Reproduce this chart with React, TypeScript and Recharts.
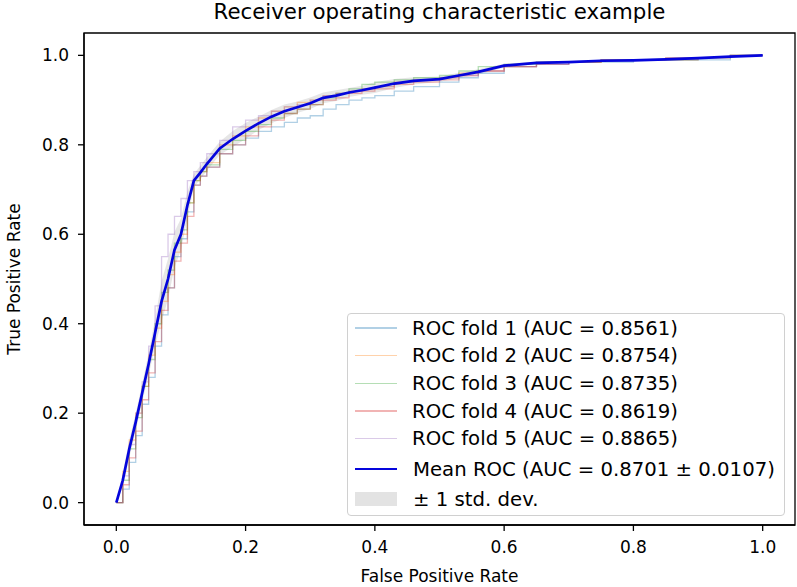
import React from "react";
import {
  ComposedChart,
  Line,
  Area,
  XAxis,
  YAxis,
  ReferenceArea,
} from "recharts";

// false positive rate grid shared by every series
const fprGrid = [
  0, 0.01, 0.02, 0.03, 0.04, 0.05, 0.06, 0.07, 0.08, 0.09, 0.1, 0.11, 0.12,
  0.13, 0.14, 0.16, 0.18, 0.2, 0.22, 0.24, 0.26, 0.28, 0.3, 0.32, 0.34, 0.36,
  0.38, 0.4, 0.43, 0.46, 0.5, 0.53, 0.56, 0.6, 0.65, 0.7, 0.75, 0.8, 0.85, 0.9,
  0.95, 1.0,
];

const meanTpr = [
  0, 0.05, 0.12, 0.18, 0.245, 0.31, 0.38, 0.45, 0.5, 0.565, 0.6, 0.665, 0.72,
  0.738, 0.757, 0.792, 0.813, 0.831, 0.848, 0.863, 0.875, 0.884, 0.893, 0.905,
  0.91, 0.917, 0.922, 0.928, 0.937, 0.943, 0.947, 0.955, 0.963, 0.977, 0.983,
  0.985, 0.988, 0.989, 0.991, 0.994, 0.997, 1.0,
];

const stdTpr = [
  0, 0.015, 0.02, 0.02, 0.02, 0.025, 0.03, 0.045, 0.045, 0.04, 0.035, 0.03,
  0.015, 0.015, 0.015, 0.015, 0.018, 0.018, 0.015, 0.015, 0.015, 0.013, 0.013,
  0.012, 0.012, 0.01, 0.01, 0.012, 0.01, 0.008, 0.006, 0.006, 0.006, 0.004,
  0.003, 0.002, 0.002, 0.002, 0.002, 0.002, 0.002, 0,
];

const fold1Tpr = [
  0, 0.03, 0.09, 0.15, 0.22, 0.28, 0.35, 0.42, 0.48, 0.55, 0.59, 0.65, 0.71,
  0.73, 0.75, 0.78, 0.8, 0.815, 0.83, 0.84, 0.85, 0.86, 0.865, 0.88, 0.89, 0.9,
  0.905, 0.91, 0.92, 0.93, 0.94, 0.95, 0.96, 0.975, 0.98, 0.985, 0.985, 0.99,
  0.99, 0.99, 1.0, 1.0,
];
const fold2Tpr = [
  0, 0.07, 0.14, 0.2, 0.26, 0.33, 0.39, 0.45, 0.51, 0.56, 0.6, 0.67, 0.72,
  0.74, 0.76, 0.8, 0.82, 0.84, 0.86, 0.875, 0.885, 0.895, 0.9, 0.91, 0.915,
  0.92, 0.925, 0.93, 0.94, 0.945, 0.95, 0.96, 0.965, 0.975, 0.985, 0.985, 0.99,
  0.99, 0.995, 0.995, 1.0, 1.0,
];
const fold3Tpr = [
  0, 0.05, 0.12, 0.19, 0.26, 0.32, 0.4, 0.47, 0.52, 0.58, 0.61, 0.67, 0.72,
  0.74, 0.755, 0.79, 0.81, 0.83, 0.845, 0.86, 0.87, 0.88, 0.89, 0.905, 0.915,
  0.925, 0.935, 0.94, 0.945, 0.95, 0.955, 0.965, 0.975, 0.98, 0.985, 0.985,
  0.99, 0.99, 0.99, 0.995, 1.0, 1.0,
];
const fold4Tpr = [
  0, 0.04, 0.1, 0.16, 0.23, 0.29, 0.36, 0.43, 0.48, 0.54, 0.58, 0.64, 0.71,
  0.73, 0.75, 0.78, 0.8, 0.82, 0.84, 0.855, 0.87, 0.88, 0.89, 0.9, 0.905,
  0.915, 0.92, 0.925, 0.935, 0.94, 0.945, 0.955, 0.965, 0.975, 0.98, 0.985,
  0.99, 0.99, 0.99, 0.995, 1.0, 1.0,
];
const fold5Tpr = [
  0, 0.06, 0.13, 0.2, 0.27, 0.35, 0.44, 0.55, 0.6, 0.64, 0.68, 0.72, 0.74,
  0.76, 0.78, 0.81, 0.84, 0.855, 0.865, 0.875, 0.885, 0.89, 0.9, 0.91, 0.915,
  0.92, 0.925, 0.93, 0.94, 0.945, 0.95, 0.955, 0.965, 0.975, 0.98, 0.985, 0.99,
  0.99, 0.995, 0.995, 1.0, 1.0,
];

const foldSeries = [fold1Tpr, fold2Tpr, fold3Tpr, fold4Tpr, fold5Tpr];
const foldAucs = ["0.8561", "0.8754", "0.8735", "0.8619", "0.8865"];
const foldColors = ["#1f77b4", "#ff7f0e", "#2ca02c", "#d62728", "#9467bd"];
const meanAuc = "0.8701";
const stdAuc = "0.0107";
const axisTicks = [0, 0.2, 0.4, 0.6, 0.8, 1.0];

const rows = fprGrid.map((fpr, i) => {
  const row: Record<string, any> = { fpr, mean: meanTpr[i] };
  foldSeries.forEach((s, k) => {
    row[`fold${k + 1}`] = s[i];
  });
  row.band = [
    Math.max(meanTpr[i] - stdTpr[i], 0),
    Math.min(meanTpr[i] + stdTpr[i], 1),
  ];
  return row;
});

const FONT = "'DejaVu Sans', sans-serif";
const MEAN_BLUE = "#0505dc";

const RocLegend = () => (
  <div
    style={{
      position: "absolute",
      left: 347,
      top: 313,
      width: 436,
      height: 201,
      border: "1px solid #d0d0d0",
      borderRadius: 4,
      background: "rgba(255,255,255,0.8)",
      fontFamily: FONT,
      fontSize: 19.7,
      color: "#000",
    }}
  >
    {foldAucs.map((auc, k) => (
      <div
        key={k}
        style={{ position: "absolute", left: 0, top: 14 + k * 27.7 - 12, height: 24, display: "flex", alignItems: "center" }}
      >
        <div style={{ marginLeft: 7, width: 42, height: 1.4, background: foldColors[k], opacity: 0.35 }} />
        <span style={{ marginLeft: 15, whiteSpace: "nowrap" }}>{`ROC fold ${k + 1} (AUC = ${auc})`}</span>
      </div>
    ))}
    <div style={{ position: "absolute", left: 0, top: 155 - 12, height: 24, display: "flex", alignItems: "center" }}>
      <div style={{ marginLeft: 7, width: 42, height: 2.6, background: MEAN_BLUE }} />
      <span style={{ marginLeft: 16, whiteSpace: "nowrap" }}>{`Mean ROC (AUC = ${meanAuc} ± ${stdAuc})`}</span>
    </div>
    <div style={{ position: "absolute", left: 0, top: 185 - 12, height: 24, display: "flex", alignItems: "center" }}>
      <div style={{ marginLeft: 7, width: 42, height: 14, background: "#808080", opacity: 0.22 }} />
      <span style={{ marginLeft: 16, whiteSpace: "nowrap" }}>± 1 std. dev.</span>
    </div>
  </div>
);

export default function App() {
  const tickStyle = { fill: "#000", fontSize: 17, fontFamily: FONT };
  return (
    <div style={{ position: "absolute", left: 0, top: 0, width: 797, height: 587, background: "#fff", fontFamily: FONT }}>
      <div style={{ position: "absolute", left: 84, width: 711, top: -1, textAlign: "center", fontSize: 21.3 }}>
        Receiver operating characteristic example
      </div>
      <ComposedChart
        width={797}
        height={587}
        data={rows}
        margin={{ top: 33, right: 2, bottom: 22, left: 24 }}
      >
        <XAxis
          dataKey="fpr"
          type="number"
          domain={[-0.05, 1.05]}
          ticks={axisTicks}
          allowDataOverflow
          tickFormatter={(v: number) => v.toFixed(1)}
          tick={tickStyle}
          tickSize={6}
          tickMargin={10}
          height={40}
          axisLine={{ stroke: "#000", strokeWidth: 1.3 }}
          tickLine={{ stroke: "#000", strokeWidth: 1.3 }}
        />
        <YAxis
          type="number"
          domain={[-0.05, 1.05]}
          ticks={axisTicks}
          allowDataOverflow
          tickFormatter={(v: number) => v.toFixed(1)}
          tick={tickStyle}
          tickSize={6}
          tickMargin={9}
          width={60}
          axisLine={{ stroke: "#000", strokeWidth: 1.3 }}
          tickLine={{ stroke: "#000", strokeWidth: 1.3 }}
        />
        {foldColors.map((c, k) => (
          <Line
            key={k}
            dataKey={`fold${k + 1}`}
            type="stepAfter"
            stroke={c}
            strokeOpacity={0.35}
            strokeWidth={1.3}
            dot={false}
            activeDot={false}
            isAnimationActive={false}
          />
        ))}
        <Line
          dataKey="mean"
          type="linear"
          stroke={MEAN_BLUE}
          strokeWidth={2.7}
          dot={false}
          activeDot={false}
          isAnimationActive={false}
        />
        <Area
          dataKey="band"
          type="linear"
          fill="#808080"
          fillOpacity={0.2}
          stroke="none"
          activeDot={false}
          isAnimationActive={false}
        />
        <ReferenceArea
          x1={-0.05}
          x2={1.05}
          y1={-0.05}
          y2={1.05}
          fill="none"
          stroke="#000"
          strokeWidth={1.3}
          ifOverflow="visible"
        />
      </ComposedChart>
      <RocLegend />
      <div style={{ position: "absolute", left: 84, width: 711, top: 566, textAlign: "center", fontSize: 17 }}>
        False Positive Rate
      </div>
      <div
        style={{
          position: "absolute",
          left: 14 - 150,
          top: 279 - 11,
          width: 300,
          height: 22,
          lineHeight: "22px",
          textAlign: "center",
          fontSize: 17,
          transform: "rotate(-90deg)",
        }}
      >
        True Positive Rate
      </div>
    </div>
  );
}
